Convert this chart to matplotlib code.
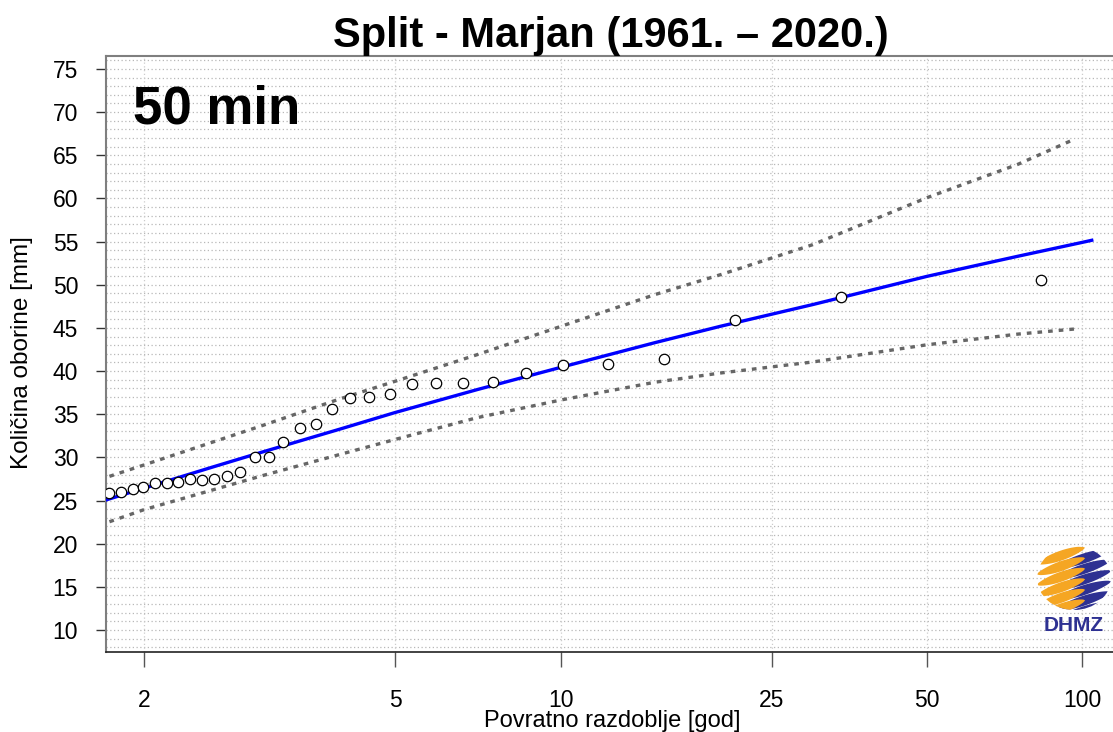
import numpy as np
import matplotlib.pyplot as plt
from matplotlib.patches import Circle, Polygon
from matplotlib.ticker import FixedLocator, NullLocator

plt.rcParams['font.family'] = ['Liberation Sans', 'DejaVu Sans']

W, H = 1113, 732

obs_T = [1.80, 1.86, 1.93, 1.99, 2.07, 2.15, 2.23, 2.32, 2.42, 2.52, 2.64,
         2.76, 2.91, 3.07, 3.23, 3.44, 3.66, 3.89, 4.18, 4.50, 4.90, 5.35,
         5.90, 6.61, 7.49, 8.58, 10.07, 12.23, 15.58, 21.3, 34.0, 83.2]
obs_mm = [25.9, 25.96, 26.35, 26.58, 27.08, 27.08, 27.19, 27.46, 27.42, 27.54,
          27.81, 28.27, 30.08, 30.08, 31.77, 33.35, 33.89, 35.59, 36.86, 36.97,
          37.32, 38.55, 38.66, 38.66, 38.78, 39.78, 40.67, 40.85, 41.43, 45.90,
          48.59, 50.59]

# fitted curve
fit_T = [1.78, 2, 2.5, 3, 4, 5, 7, 10, 15, 20, 30, 50, 75, 100, 104.5]
fit_mm = [25.05, 26.44, 28.85, 30.64, 33.24, 35.2, 37.85, 40.45, 43.3, 45.2,
          47.7, 50.98, 53.3, 54.9, 55.15]

# confidence band
up_T = [1.80, 2, 3, 4, 5, 7, 10, 15, 20, 30, 50, 75, 97]
up_mm = [27.8, 29.13, 33.71, 36.74, 38.82, 41.9, 45.2, 48.87, 51.18, 54.64,
         60.1, 63.95, 66.9]
lo_T = [1.80, 2, 3, 4, 5, 7, 10, 15, 20, 30, 50, 75, 98]
lo_mm = [22.54, 23.95, 27.9, 30.31, 32.08, 34.6, 36.66, 38.71, 39.78, 41.05,
         43.05, 44.28, 44.9]

x_ticks = [2, 5, 10, 25, 50, 100]
y_ticks = list(range(10, 80, 5))
y_grid = list(range(8, 77))


def gumbel(t):
    t = np.asarray(t, dtype=float)
    with np.errstate(all='ignore'):
        return -np.log(-np.log(1 - 1 / t))


def gumbel_inv(v):
    v = np.asarray(v, dtype=float)
    with np.errstate(all='ignore'):
        return 1 / (1 - np.exp(-np.exp(-v)))


fig = plt.figure(figsize=(W / 100, H / 100), dpi=100)
ax = fig.add_axes([106 / W, 1 - 652 / H, (1115 - 106) / W, (652 - 56) / H])
ax.set_xscale('function', functions=(gumbel, gumbel_inv))
ax.set_xlim(1.782, 116)
ax.set_ylim(7.45, 76.5)

for y in y_grid:
    ax.axhline(y, color='#b8b8b8', lw=0.9, ls=(0, (1, 2)), zorder=0)
for t in x_ticks:
    ax.axvline(t, color='#cccccc', lw=0.9, ls=(0, (1, 2)), zorder=0)

ax.plot(up_T, up_mm, color='#666666', lw=2.4, ls=(0, (1.4, 1.8)), zorder=3)
ax.plot(lo_T, lo_mm, color='#666666', lw=2.4, ls=(0, (1.4, 1.8)), zorder=3)
ax.plot(fit_T, fit_mm, color='#0000ff', lw=2.4, zorder=4)
ax.plot(obs_T, obs_mm, 'o', ms=7.5, mfc='white', mec='black', mew=0.9,
        zorder=5)

ax.xaxis.set_major_locator(FixedLocator(x_ticks))
ax.xaxis.set_minor_locator(NullLocator())
ax.set_xticklabels([str(t) for t in x_ticks])
ax.set_yticks(y_ticks)
ax.tick_params(axis='y', length=7, width=1, color='#333333', pad=13,
               labelsize=16.5)
ax.tick_params(axis='x', length=10.5, width=1, color='#555555', pad=16,
               labelsize=16.5)

ax.spines['right'].set_visible(False)
for side in ('left', 'top'):
    ax.spines[side].set_color('#7f7f7f')
    ax.spines[side].set_linewidth(1.5)
ax.spines['bottom'].set_color('#222222')
ax.spines['bottom'].set_linewidth(1.2)

fig.text(611 / W, 1 - 47 / H, 'Split - Marjan (1961. – 2020.)',
         ha='center', va='baseline', fontsize=30, fontweight='bold')
fig.text(133 / W, 1 - 124 / H, '50 min', ha='left', va='baseline',
         fontsize=38, fontweight='bold')
fig.text(612 / W, 1 - 727 / H, 'Povratno razdoblje [god]', ha='center',
         va='baseline', fontsize=17)
fig.text(22 / W, 1 - 353 / H, 'Količina oborine [mm]', ha='center',
         va='center', rotation=90, fontsize=17.5)

# DHMZ logo
lax = fig.add_axes([1037 / W, 1 - 610 / H, 74 / W, 64 / H])
lax.set_xlim(-1, 1)
lax.set_ylim(-1, 1)
lax.axis('off')
clip = Circle((0, 0), 1, transform=lax.transData)
for k in range(7):
    yc = 0.95 - 0.33 * k
    xs = np.linspace(-1.0, 0.3, 30)
    th = 0.16 * np.sin(np.pi * (xs + 1.0) / 1.3) ** 0.6
    cy = yc - 0.5 + 0.5 * (xs + 1.0) / 1.3
    pts = np.concatenate([np.c_[xs, cy + th], np.c_[xs[::-1], (cy - th)[::-1]]])
    p = Polygon(pts, closed=True, color='#f5a623', lw=0)
    lax.add_patch(p)
    p.set_clip_path(clip)
    xs = np.linspace(-0.5, 1.0, 30)
    th = 0.16 * np.sin(np.pi * (xs + 0.5) / 1.5) ** 0.6
    cy = yc - 0.62 + 0.55 * (xs + 0.5) / 1.5
    pts = np.concatenate([np.c_[xs, cy + th], np.c_[xs[::-1], (cy - th)[::-1]]])
    p = Polygon(pts, closed=True, color='#2e3192', lw=0)
    lax.add_patch(p)
    p.set_clip_path(clip)
fig.text(1074 / W, 1 - 631 / H, 'DHMZ', color='#2e3192', fontsize=15,
         fontweight='bold', ha='center', va='baseline')

fig.savefig('out.png', dpi=100)
